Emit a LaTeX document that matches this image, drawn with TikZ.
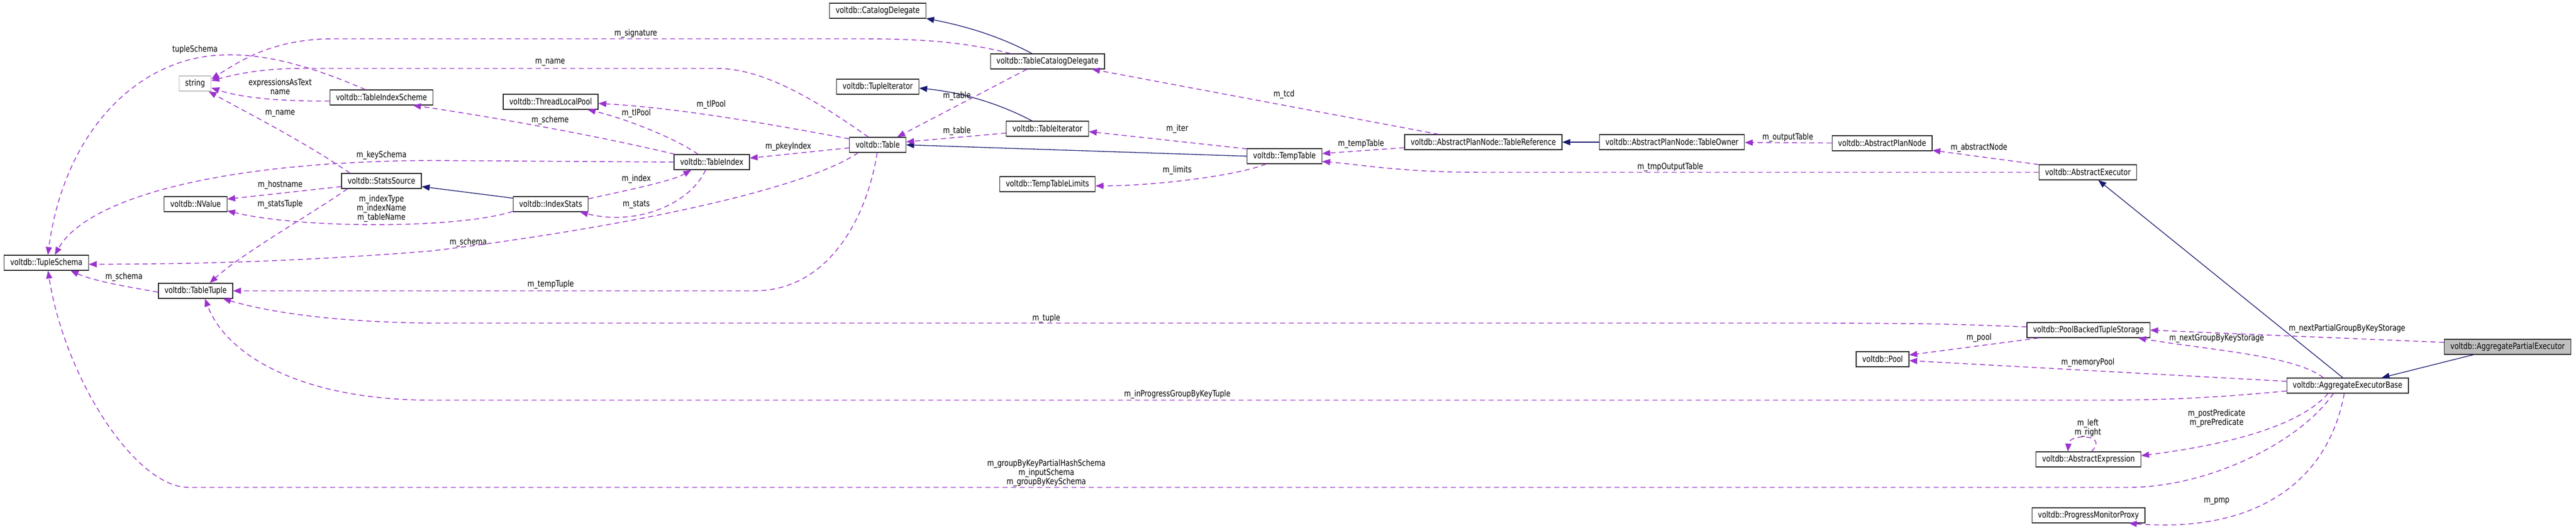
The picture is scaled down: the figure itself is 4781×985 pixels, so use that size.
\documentclass[tikz,border=0pt]{standalone}
\usepackage{fontspec}
\setmainfont{DejaVu Sans}[FakeStretch=0.8]
\usepackage{tikz}
\definecolor{orchid}{RGB}{154,50,205}
\definecolor{midnight}{RGB}{25,25,112}
\definecolor{silver}{RGB}{191,191,191}
\usetikzlibrary{arrows.meta}
\tikzstyle{cls} = [rectangle, minimum height=21pt, inner xsep=8.5pt, inner ysep=2pt, text centered, draw=black!85, fill=white, line width=0.9pt]
\tikzstyle{leaf} = [cls, draw=silver]
\tikzstyle{focus} = [cls, fill=silver]
\tikzstyle{usage} = [->, >={Triangle[length=11pt,width=8.5pt]}, dash pattern=on 7pt off 5pt, line width=1.1pt, draw=orchid]
\tikzstyle{derive} = [->, >={Triangle[length=11pt,width=8.5pt]}, line width=1pt, draw=midnight]
\tikzstyle{lbl} = [inner sep=0pt, align=center]

\begin{document}
\begin{tikzpicture}[x=0.75pt, y=-0.75pt, font=\fontsize{12}{12.8}\selectfont]
        \useasboundingbox (0,0) rectangle (4781,985);
        \node (node0) [focus] at (4654,644) {voltdb::AggregatePartialExecutor};
        \node (node1) [cls] at (4357,716) {voltdb::AggregateExecutorBase};
        \node (node2) [cls] at (3875,320) {voltdb::AbstractExecutor};
        \node (node3) [cls] at (3493,266) {voltdb::AbstractPlanNode};
        \node (node4) [cls] at (3103,264) {voltdb::AbstractPlanNode::TableOwner};
        \node (node5) [cls] at (2753,264) {voltdb::AbstractPlanNode::TableReference};
        \node (node6) [cls] at (2384,290) {voltdb::TempTable};
        \node (node7) [cls] at (1629,269) {voltdb::Table};
        \node (node8) [cls] at (1944,114) {voltdb::TableCatalogDelegate};
        \node (node9) [cls] at (1629,20) {voltdb::CatalogDelegate};
        \node (node10) [cls] at (1944,239) {voltdb::TableIterator};
        \node (node11) [cls] at (1629,161) {voltdb::TupleIterator};
        \node (node12) [cls] at (1944,342) {voltdb::TempTableLimits};
        \node (node13) [cls] at (1321,301) {voltdb::TableIndex};
        \node (node14) [cls] at (1022,189) {voltdb::ThreadLocalPool};
        \node (node15) [cls] at (1022,379) {voltdb::IndexStats};
        \node (node16) [cls] at (708,336) {voltdb::StatsSource};
        \node (node17) [cls] at (708,181) {voltdb::TableIndexScheme};
        \node (node18) [leaf] at (362,155) {string};
        \node (node19) [cls] at (363,379) {voltdb::NValue};
        \node (node20) [cls] at (363,540) {voltdb::TableTuple};
        \node (node21) [cls] at (86,488) {voltdb::TupleSchema};
        \node (node22) [cls] at (3876,613) {voltdb::PoolBackedTupleStorage};
        \node (node23) [cls] at (3494,667) {voltdb::Pool};
        \node (node24) [cls] at (3876,853) {voltdb::AbstractExpression};
        \node (node25) [cls] at (3876,957) {voltdb::ProgressMonitorProxy};

        \draw [derive] (node0.193) -- (node1.13);
        \draw [derive] (node1.121) -- (node2.323);
        \draw [derive] (node4) -- (node5);
        \draw [derive] (node6.west) -- (node7.east);
        \draw [derive] (node8.153) .. controls (1860,70) and (1800,50) .. (node9.351);
        \draw [derive] (node10.153) .. controls (1860,195) and (1790,172) .. (node11.358);
        \draw [derive] (node15.171) -- (node16.352);

        \draw [usage] (node17.154) .. controls (560,115) and (480,100) .. (418,102) .. controls (260,104) and (120,240) .. (node21.79) node[lbl] at (362,92) {tupleSchema};
        \draw [usage] (node8.168) .. controls (1800,80) and (1720,72) .. (1600,72) -- (620,72) .. controls (510,72) and (450,110) .. (node18.15) node[lbl] at (1180,62) {m\_signature};
        \draw [usage] (node7.140) .. controls (1520,190) and (1420,127) .. (1330,127) -- (560,127) .. controls (480,127) and (430,140) .. (node18.10) node[lbl] at (1021,116) {m\_name};
        \draw [usage] (node17.184) .. controls (520,188) and (450,182) .. (node18.345) node[lbl] at (520,161) {expressionsAsText\\name};
        \draw [usage] (node16.166) .. controls (560,260) and (450,205) .. (node18.330) node[lbl] at (520,211) {m\_name};
        \draw [usage] (node13.168) .. controls (1100,250) and (900,215) .. (node17.346) node[lbl] at (1021,223) {m\_scheme};
        \draw [usage] (node13.west) -- (800,298) .. controls (400,300) and (160,370) .. (node21.43) node[lbl] at (708,288) {m\_keySchema};
        \draw [usage] (node16.188) -- (node19.9) node[lbl] at (520,343) {m\_hostname};
        \draw [usage] (node16.193) .. controls (590,390) and (450,470) .. (node20.29) node[lbl] at (520,379) {m\_statsTuple};
        \draw [usage] (node15.191) .. controls (850,425) and (560,425) .. (node19.348) node[lbl] at (708,387) {m\_indexType\\m\_indexName\\m\_tableName};
        \draw [usage] (node7.202) .. controls (1480,360) and (1100,430) .. (800,466) .. controls (500,490) and (300,490) .. (node21.358) node[lbl] at (869,450) {m\_schema};
        \draw [usage] (node20.182) .. controls (220,530) and (170,520) .. (node21.342) node[lbl] at (230,514) {m\_schema};
        \draw [usage] (node7.266) .. controls (1610,400) and (1540,540) .. (1400,540) -- (node20.east) node[lbl] at (1022,528) {m\_tempTuple};
        \draw [usage] (node13.150) .. controls (1250,255) and (1160,220) .. (node14.348) node[lbl] at (1181,210) {m\_tlPool};
        \draw [usage] (node7.168) .. controls (1400,225) and (1250,200) .. (node14.358) node[lbl] at (1320,194) {m\_tlPool};
        \draw [usage] (node7.186) -- (node13.6) node[lbl] at (1463,272) {m\_pkeyIndex};
        \draw [usage] (node15.8) .. controls (1180,350) and (1250,335) .. (node13.201) node[lbl] at (1181,332) {m\_index};
        \draw [usage] (node13.232) .. controls (1280,380) and (1180,420) .. (node15.345) node[lbl] at (1181,380) {m\_stats};
        \draw [usage] (node8.201) -- (node7.22) node[lbl] at (1776,178) {m\_table};
        \draw [usage] (node10.186) -- (node7.6) node[lbl] at (1776,243) {m\_table};
        \draw [usage] (node6.169) -- (node10.356) node[lbl] at (2185,239) {m\_iter};
        \draw [usage] (node6.203) .. controls (2300,325) and (2150,345) .. (node12.358) node[lbl] at (2185,316) {m\_limits};
        \draw [usage] (node5.170) -- (node8.350) node[lbl] at (2383,175) {m\_tcd};
        \draw [usage] (node5.184) -- (node6.4) node[lbl] at (2526,267) {m\_tempTable};
        \draw [usage] (node2.west) -- (2750,320) .. controls (2600,320) and (2520,305) .. (node6.352) node[lbl] at (3100,310) {m\_tmpOutputTable};
        \draw [usage] (node3) -- (node4) node[lbl] at (3318,255) {m\_outputTable};
        \draw [usage] (node2.171) -- (node3.352) node[lbl] at (3673,274) {m\_abstractNode};
        \draw [usage] (node0.176) -- (node22.east) node[lbl] at (4356,610) {m\_nextPartialGroupByKeyStorage};
        \draw [usage] (node1.162) .. controls (4260,660) and (4100,650) .. (node22.351) node[lbl] at (4114,628) {m\_nextGroupByKeyStorage};
        \draw [usage] (node22.189) -- (node23.9) node[lbl] at (3673,627) {m\_pool};
        \draw [usage] (node1.176) -- (node23.357) node[lbl] at (3875,673) {m\_memoryPool};
        \draw [usage] (node22.177) .. controls (3600,601) .. (3400,600) -- (800,600) .. controls (620,598) and (500,580) .. (node20.344) node[lbl] at (1942,591) {m\_tuple};
        \draw [usage] (node1.185) .. controls (4100,740) and (4000,743) .. (3900,743) -- (800,743) .. controls (560,743) and (420,660) .. (node20.320) node[lbl] at (2185,732) {m\_inProgressGroupByKeyTuple};
        \draw [usage] (node1.209) .. controls (4270,820) and (4100,905) .. (3950,905) -- (350,905) .. controls (250,905) and (120,700) .. (node21.282) node[lbl] at (1942,878) {m\_groupByKeyPartialHashSchema\\m\_inputSchema\\m\_groupByKeySchema};
        \draw [usage] (node1.202) .. controls (4260,800) and (4100,830) .. (node24.4) node[lbl] at (4114,777) {m\_postPredicate\\m\_prePredicate};
        \draw [usage] (node24.69) .. controls (3915,805) and (3840,805) .. (node24.159) node[lbl] at (3875,795) {m\_left\\m\_right};
        \draw [usage] (node1.247) .. controls (4320,900) and (4180,990) .. (node25.349) node[lbl] at (4114,931) {m\_pmp};
    \end{tikzpicture}
\end{document}
